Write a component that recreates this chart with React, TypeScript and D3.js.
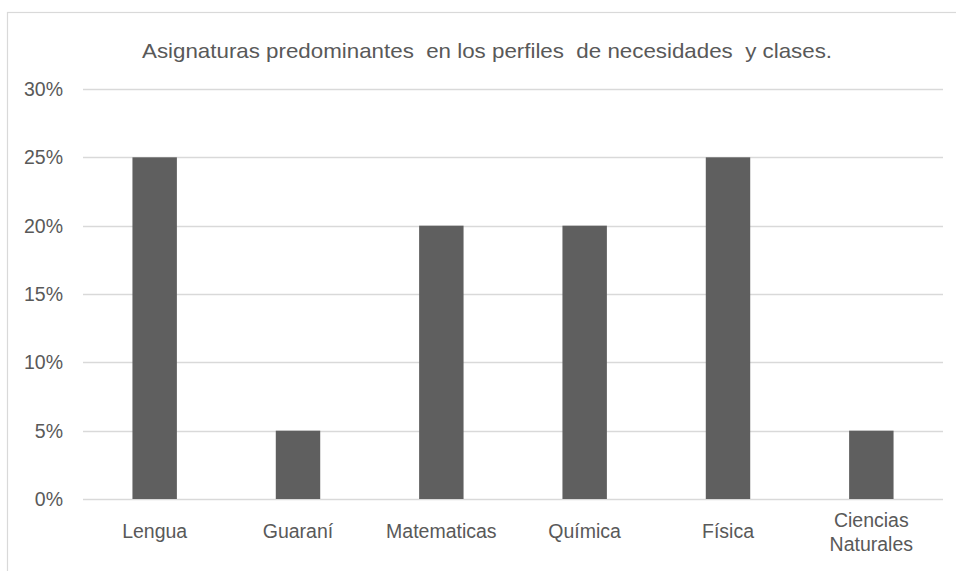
import React from "react";
import * as d3 from "d3";

const categories: string[][] = [["Lengua"], ["Guaraní"], ["Matematicas"], ["Química"], ["Física"], ["Ciencias", "Naturales"]];
const values: number[] = [0.25, 0.05, 0.2, 0.2, 0.25, 0.05];
const yTicks: number[] = [0, 0.05, 0.1, 0.15, 0.2, 0.25, 0.3];
const title = "Asignaturas predominantes  en los perfiles  de necesidades  y clases.";

export default function App() {
  const W = 956, H = 571;
  const left = 83, right = 943, top = 89, bottom = 499;
  const x = d3.scaleBand<number>().domain(d3.range(values.length)).range([left, right]).paddingInner(0.69).paddingOuter(0.345);
  const y = d3.scaleLinear().domain([0, 0.3]).range([bottom, top]);
  const fmt = d3.format(".0%");
  const font = "'Liberation Sans', Arial, sans-serif";
  const txt = "#595959";
  return (
    <div style={{ position: "fixed", left: 0, top: 0 }}>
      <svg width={W} height={H} style={{ display: "block", background: "#fff" }}>
        <rect x={7.5} y={12.5} width={W + 20} height={H + 20} fill="#fff" stroke="#d9d9d9" strokeWidth={1.2} />
        <text x={487} y={58} textAnchor="middle" fontFamily={font} fontSize={21} fill={txt} textLength={690} lengthAdjust="spacingAndGlyphs" style={{ whiteSpace: "pre" }}>{title}</text>
        {yTicks.map((t) => (
          <g key={t}>
            <line x1={left} x2={right} y1={Math.round(y(t)) + 0.5} y2={Math.round(y(t)) + 0.5} stroke="#d9d9d9" strokeWidth={1.3} />
            <text x={63} y={y(t) + 7} textAnchor="end" fontFamily={font} fontSize={19.5} fill={txt}>{fmt(t)}</text>
          </g>
        ))}
        {values.map((v, i) => (
          <rect key={i} x={x(i)} y={y(v)} width={x.bandwidth()} height={y(0) - y(v)} fill="#5f5f5f" />
        ))}
        {categories.map((lines, i) => (
          <text key={i} x={(x(i) as number) + x.bandwidth() / 2} y={538} textAnchor="middle" fontFamily={font} fontSize={19.5} fill={txt}>
            {lines.map((l, j) => (
              <tspan key={j} x={(x(i) as number) + x.bandwidth() / 2} dy={j === 0 ? (lines.length > 1 ? -11 : 0) : 24}>{l}</tspan>
            ))}
          </text>
        ))}
      </svg>
    </div>
  );
}
